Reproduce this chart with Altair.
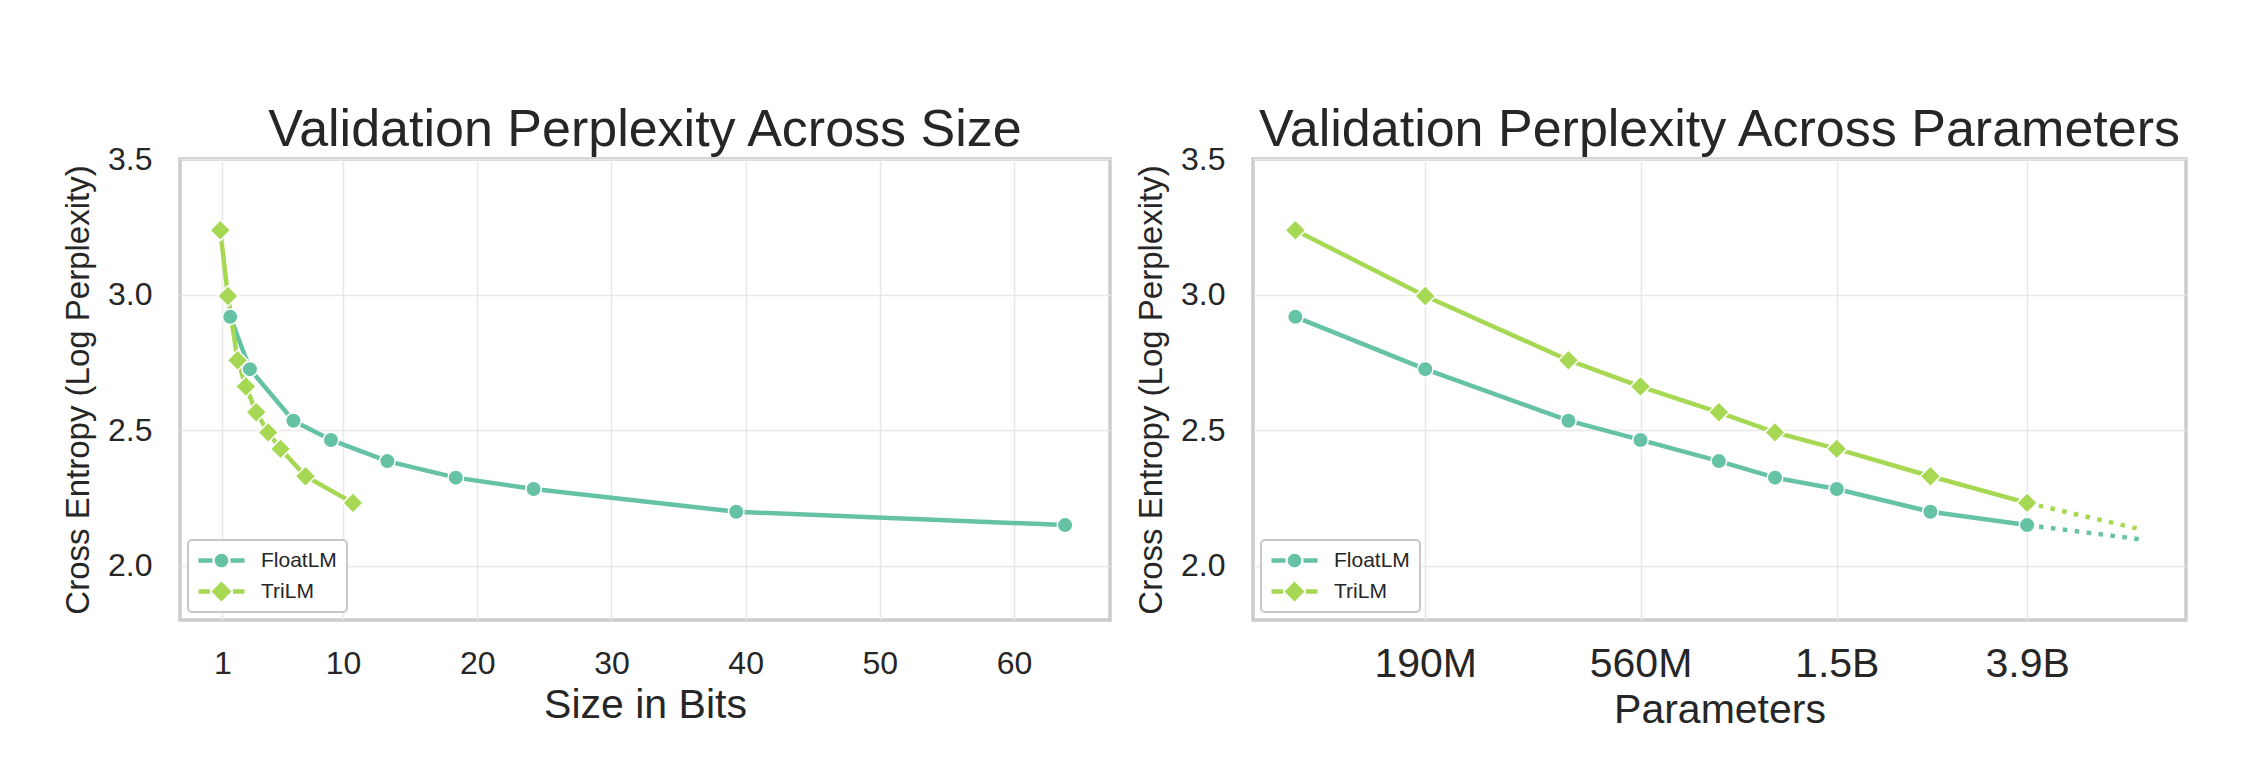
import altair as alt
import pandas as pd

# ---------------- data ----------------
series_names = ["FloatLM", "TriLM"]
series_colors = ["#66c2a5", "#a6d854"]
series_shapes = ["circle", "diamond"]
series_marker_sizes = [240, 420]

float_bits = [1.59, 3.06, 6.3, 9.1, 13.3, 18.4, 24.2, 39.3, 63.8]
tri_bits = [0.85, 1.42, 2.14, 2.76, 3.53, 4.42, 5.34, 7.2, 10.74]
float_loss = [2.918, 2.725, 2.535, 2.464, 2.386, 2.325, 2.283, 2.199, 2.150]
tri_loss = [3.237, 2.995, 2.758, 2.661, 2.566, 2.492, 2.431, 2.330, 2.232]

params = [99e6, 190e6, 390e6, 560e6, 830e6, 1.1e9, 1.5e9, 2.4e9, 3.9e9]
extrap_params = [3.9e9, 7e9]
float_extrap = [2.150, 2.096]
tri_extrap = [2.232, 2.132]

bits_ticks = [1, 10, 20, 30, 40, 50, 60]
loss_ticks = [2.0, 2.5, 3.0, 3.5]
param_ticks = [190e6, 560e6, 1.5e9, 3.9e9]
param_tick_labels = ["190M", "560M", "1.5B", "3.9B"]

# ---------------- tables ----------------
size_df = pd.DataFrame(
    [{"series": "FloatLM", "bits": b, "loss": l} for b, l in zip(float_bits, float_loss)]
    + [{"series": "TriLM", "bits": b, "loss": l} for b, l in zip(tri_bits, tri_loss)]
)
param_df = pd.DataFrame(
    [{"series": "FloatLM", "params": p, "loss": l} for p, l in zip(params, float_loss)]
    + [{"series": "TriLM", "params": p, "loss": l} for p, l in zip(params, tri_loss)]
)
extrap_df = pd.DataFrame(
    [{"series": "FloatLM", "params": p, "loss": l} for p, l in zip(extrap_params, float_extrap)]
    + [{"series": "TriLM", "params": p, "loss": l} for p, l in zip(extrap_params, tri_extrap)]
)

FONT = "Liberation Sans"
TEXT = "#262626"

# legend symbols: line segments with the marker in the middle (custom SVG paths)
path_float = ("M-2.3,-0.22H-0.9V0.22H-2.3Z M0.9,-0.22H2.3V0.22H0.9Z "
              "M0.68,0A0.68,0.68,0,1,1,-0.68,0A0.68,0.68,0,1,1,0.68,0Z")
path_tri = ("M-2.3,-0.22H-1.15V0.22H-2.3Z M1.15,-0.22H2.3V0.22H1.15Z "
            "M0,-1L1,0L0,1L-1,0Z")

legend = alt.Legend(
    title=None,
    orient="bottom-left",
    offset=8,
    padding=10,
    fillColor="white",
    labelFont=FONT,
    labelFontSize=21,
    labelColor=TEXT,
    symbolSize=400,
    symbolOffset=13,
    labelOffset=29,
    rowPadding=9,
    symbolStrokeWidth=0,
    symbolOpacity=1,
)

color_scale = alt.Scale(domain=series_names, range=series_colors)
legend_shape_scale = alt.Scale(domain=series_names, range=[path_float, path_tri])

y_enc = alt.Y(
    "loss:Q",
    title="Cross Entropy (Log Perplexity)",
    scale=alt.Scale(domain=[1.8, 3.5], nice=False, zero=False),
    axis=alt.Axis(values=loss_ticks, format=".1f", labelFontSize=32, labelPadding=28,
                  titleFontSize=33, titlePadding=12),
)

W, H = 930, 461
LW = 4.5


def legend_layer(df, x_enc):
    return alt.Chart(df).mark_point(filled=True, opacity=1, strokeWidth=0, size=400).encode(
        x=x_enc, y=y_enc,
        color=alt.Color("series:N", scale=color_scale, legend=legend),
        shape=alt.Shape("series:N", scale=legend_shape_scale, legend=legend),
    ).transform_filter("datum.loss < 0")


def series_layers(df, x_enc, ext_df=None):
    layers = []
    for name, col in zip(series_names, series_colors):
        layers.append(
            alt.Chart(df).mark_line(strokeWidth=LW, strokeCap="round", color=col)
            .encode(x=x_enc, y=y_enc).transform_filter(alt.datum.series == name)
        )
        if ext_df is not None:
            layers.append(
                alt.Chart(ext_df).mark_line(strokeWidth=LW, strokeDash=[4.5, 7.5], strokeCap="butt", color=col)
                .encode(x=x_enc, y=y_enc).transform_filter(alt.datum.series == name)
            )
    for name, col, shp, msz in zip(series_names, series_colors, series_shapes, series_marker_sizes):
        layers.append(
            alt.Chart(df).mark_point(filled=True, opacity=1, color=col, shape=shp, size=msz,
                                     stroke="white", strokeWidth=1.5)
            .encode(x=x_enc, y=y_enc).transform_filter(alt.datum.series == name)
        )
    return layers


def title(text):
    return alt.TitleParams(text, fontSize=52, font=FONT, fontWeight="normal", color=TEXT,
                           frame="group", baseline="alphabetic", offset=-55, anchor="middle")


# ---------------- left panel ----------------
x_bits = alt.X(
    "bits:Q",
    title="Size in Bits",
    scale=alt.Scale(domain=[-2.15, 67.15], nice=False, zero=False),
    axis=alt.Axis(values=bits_ticks, format="d", labelFontSize=32, labelPadding=28,
                  titleFontSize=41, titlePadding=6),
)
left = alt.layer(legend_layer(size_df, x_bits), *series_layers(size_df, x_bits)).properties(
    width=W, height=H, title=title("Validation Perplexity Across Size"),
)

# ---------------- right panel ----------------
label_map = "{" + ",".join("'%d':'%s'" % (int(v), t) for v, t in zip(param_ticks, param_tick_labels)) + "}"
x_par = alt.X(
    "params:Q",
    title="Parameters",
    scale=alt.Scale(type="log", domain=[10 ** 7.9033, 10 ** 9.9375], nice=False, zero=False),
    axis=alt.Axis(values=param_ticks, labelExpr=label_map + "[format(datum.value, 'd')]",
                  labelFontSize=41, labelPadding=24, titleFontSize=41, titlePadding=6),
)
right = alt.layer(legend_layer(param_df, x_par), *series_layers(param_df, x_par, extrap_df)).properties(
    width=W + 3, height=H, title=title("Validation Perplexity Across Parameters"),
)

chart = (
    alt.hconcat(left, right, spacing=21)
    .resolve_scale(color="independent", shape="independent")
    .properties(padding={"left": 60, "top": 102, "right": 5, "bottom": 5}, background="white")
    .configure_view(stroke="#cccccc", strokeWidth=3.5)
    .configure_axis(
        labelFont=FONT, titleFont=FONT, labelColor=TEXT, titleColor=TEXT,
        titleFontWeight="normal", grid=True, gridColor="#e8e8e8", gridWidth=1.5,
        domain=False, ticks=False,
    )
    .configure_legend(strokeColor="#c8c8c8", strokeWidth=2, cornerRadius=4, fillColor="white")
)

chart.save("out.html", embed_options={"renderer": "svg", "actions": False})
